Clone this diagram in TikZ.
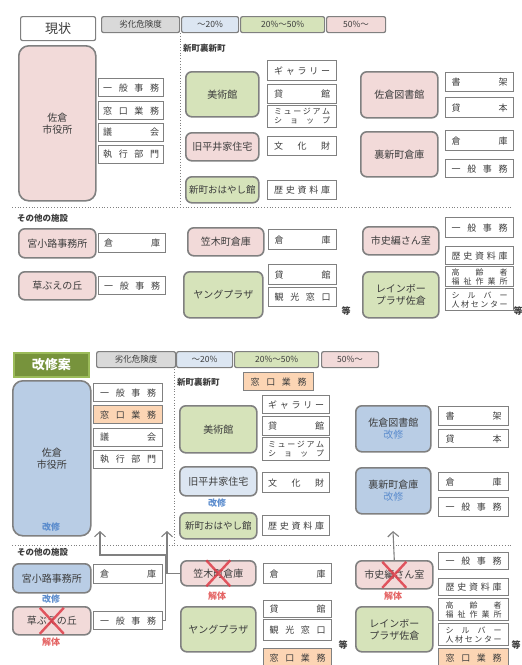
\documentclass[tikz,border=0pt]{standalone}
\usepackage{fontspec}
\setmainfont{Noto Sans CJK JP}
\usepackage{xcolor}
\usepackage{tikz}
\usetikzlibrary{arrows.meta}
\definecolor{pinkfill}{RGB}{242, 218, 217}
\definecolor{greenfill}{RGB}{214, 227, 186}
\definecolor{bluefill}{RGB}{185, 205, 229}
\definecolor{lightblue}{RGB}{220, 230, 242}
\definecolor{orangefill}{RGB}{252, 213, 180}
\definecolor{grayfill}{RGB}{217, 217, 217}
\definecolor{edgegray}{RGB}{128, 128, 128}
\definecolor{txtgray}{RGB}{60, 60, 60}
\definecolor{kgreen}{RGB}{119, 147, 60}
\definecolor{kgreenedge}{RGB}{155, 187, 89}
\definecolor{kblue}{RGB}{91, 140, 205}
\definecolor{kred}{RGB}{228, 100, 100}
\definecolor{xred}{RGB}{222, 60, 72}
\newcommand{\spreadtext}[2][56pt]{\makebox[#1][s]{#2}}
\tikzstyle{facility} = [
    rectangle,
    rounded corners=6pt,
    anchor=north west,
    line width=1.6pt,
    draw=edgegray,
    text=txtgray,
    align=center,
    inner sep=1pt,
    font=\fontsize{10}{12}\selectfont
]
\tikzstyle{item} = [
    rectangle,
    anchor=north west,
    line width=1.2pt,
    draw=edgegray,
    fill=white,
    text=txtgray,
    align=center,
    inner sep=0pt,
    minimum width=68pt,
    minimum height=19pt,
    font=\fontsize{9}{10}\selectfont
]
\tikzstyle{legend} = [
    rectangle,
    rounded corners=2pt,
    anchor=north west,
    line width=1.2pt,
    draw=edgegray,
    text=txtgray,
    inner sep=0pt,
    minimum height=16pt,
    font=\fontsize{8.5}{9}\selectfont
]
\tikzstyle{twoline} = [font=\fontsize{8}{9}\selectfont]
\tikzstyle{heading} = [anchor=west, inner sep=0pt, text=txtgray, font=\bfseries\fontsize{8.5}{9}\selectfont]
\tikzstyle{note} = [inner sep=0pt, font=\bfseries\fontsize{9}{9}\selectfont]
\tikzstyle{cross} = [line width=2.4pt, color=xred, opacity=0.85]
\tikzstyle{flow} = [line width=1.1pt, color=edgegray, -{Straight Barb[length=5pt, width=11pt]}]
\tikzstyle{sep} = [dotted, line width=0.8pt, color=edgegray]

\begin{document}
\begin{tikzpicture}[x=1pt, y=-1pt]
        \useasboundingbox (0,0) rectangle (522,665);

        % Current state
        \node[item, rounded corners=2pt, minimum width=75pt, minimum height=24pt, font=\fontsize{13}{14}\selectfont] (title) at (20,16) {現状};
        \node[legend, fill=grayfill, minimum width=78pt] (risk) at (101,16) {劣化危険度};
        \node[legend, fill=lightblue, minimum width=57pt] (low) at (181,16) {～20\%};
        \node[legend, fill=greenfill, minimum width=84pt] (mid) at (240,16) {20\%～50\%};
        \node[legend, fill=pinkfill, minimum width=59pt] (high) at (326,16) {50\%～};
        \draw[sep] (180,33) -- (180,205);
        \draw[sep] (12,207) -- (512,207);
        \node[heading] (area) at (183,48) {新町裏新町};

        \node[facility, fill=pinkfill, rounded corners=10pt, minimum width=77pt, minimum height=155pt] (hall) at (18,45) {佐倉\\市役所};
        \node[item, minimum width=65pt, minimum height=18pt] (hall-office) at (98,78) {\spreadtext{一\hfill 般\hfill 事\hfill 務}};
        \node[item, minimum width=65pt, minimum height=18pt] (hall-counter) at (98,101) {\spreadtext{窓\hfill 口\hfill 業\hfill 務}};
        \node[item, minimum width=65pt, minimum height=18pt] (hall-council) at (98,123) {\spreadtext{議\hfill 会}};
        \node[item, minimum width=65pt, minimum height=18pt] (hall-exec) at (98,145) {\spreadtext{執\hfill 行\hfill 部\hfill 門}};

        \node[facility, fill=greenfill, minimum width=73pt, minimum height=45pt] (museum) at (185,71) {美術館};
        \node[facility, fill=pinkfill, minimum width=73pt, minimum height=28pt] (hirai) at (185,132) {旧平井家住宅};
        \node[facility, fill=greenfill, minimum width=73pt, minimum height=26pt, font=\fontsize{9.5}{11}\selectfont] (ohayashi) at (185,176) {新町おはやし館};
        \node[item, minimum width=69pt, minimum height=20pt] (gallery) at (267,60) {\spreadtext{ギ\hfill ャ\hfill ラ\hfill リ\hfill ー}};
        \node[item, minimum width=69pt] (lend) at (267,84) {\spreadtext{貸\hfill 館}};
        \node[item, twoline, minimum width=69pt, minimum height=22pt] (shop) at (267,105) {\spreadtext{ミ\hfill ュ\hfill ー\hfill ジ\hfill ア\hfill ム}\\\spreadtext{シ\hfill ョ\hfill ッ\hfill プ}};
        \node[item, minimum width=69pt] (heritage) at (267,136) {\spreadtext{文\hfill 化\hfill 財}};
        \node[item, minimum width=69pt] (archive) at (267,180) {\spreadtext{歴\hfill 史\hfill 資\hfill 料\hfill 庫}};

        \node[facility, fill=pinkfill, minimum width=77pt, minimum height=46pt] (library) at (360,71) {佐倉図書館};
        \node[facility, fill=pinkfill, minimum width=77pt, minimum height=45pt] (storehouse) at (360,131) {裏新町倉庫};
        \node[item] (shelf) at (445,72) {\spreadtext{書\hfill 架}};
        \node[item, minimum height=20pt] (books) at (445,97) {\spreadtext{貸\hfill 本}};
        \node[item, minimum height=20pt] (store) at (445,130) {\spreadtext{倉\hfill 庫}};
        \node[item, minimum height=18pt] (office) at (445,159) {\spreadtext{一\hfill 般\hfill 事\hfill 務}};

        % Other facilities
        \node[heading] (others) at (17,218) {その他の施設};
        \node[facility, fill=pinkfill, minimum width=77pt, minimum height=29pt] (miyakoji) at (18,228) {宮小路事務所};
        \node[item, minimum width=67pt] (miyakoji-store) at (98,233) {\spreadtext{倉\hfill 庫}};
        \node[facility, fill=pinkfill, minimum width=77pt, minimum height=28pt] (kusabue) at (18,271) {草ぶえの丘};
        \node[item, minimum width=67pt, minimum height=18pt] (kusabue-office) at (98,276) {\spreadtext{一\hfill 般\hfill 事\hfill 務}};
        \node[facility, fill=pinkfill, minimum width=76pt, minimum height=28pt] (kasagi) at (187,227) {笠木町倉庫};
        \node[item, minimum height=20pt] (kasagi-store) at (268,229) {\spreadtext{倉\hfill 庫}};
        \node[facility, fill=greenfill, minimum width=79pt, minimum height=46pt] (young) at (183,271) {ヤングプラザ};
        \node[item, minimum height=20pt] (young-lend) at (268,264) {\spreadtext{貸\hfill 館}};
        \node[item] (young-tour) at (268,287) {\spreadtext{観\hfill 光\hfill 窓\hfill 口}};
        \node[note, text=txtgray] (etc1) at (346,311) {等};
        \node[facility, fill=pinkfill, minimum width=76pt, minimum height=28pt] (shishi) at (362,226) {市史編さん室};
        \node[item, minimum height=20pt] (shishi-office) at (445,217) {\spreadtext{一\hfill 般\hfill 事\hfill 務}};
        \node[item, minimum height=18pt] (shishi-archive) at (445,246) {\spreadtext{歴\hfill 史\hfill 資\hfill 料\hfill 庫}};
        \node[item, twoline, minimum height=20pt] (welfare) at (445,266) {\spreadtext{高\hfill 齢\hfill 者}\\\spreadtext{福\hfill 祉\hfill 作\hfill 業\hfill 所}};
        \node[item, twoline, minimum height=22pt] (silver) at (445,288) {\spreadtext{シ\hfill ル\hfill バ\hfill ー}\\\spreadtext{人\hfill 材\hfill セ\hfill ン\hfill タ\hfill ー}};
        \node[facility, fill=greenfill, minimum width=76pt, minimum height=46pt] (rainbow) at (362,271) {レインボー\\プラザ佐倉};
        \node[note, text=txtgray] (etc2) at (518,311) {等};

        % Renovation plan
        \node[rectangle, anchor=north west, fill=kgreen, draw=kgreenedge, line width=1.5pt, minimum width=75pt, minimum height=24pt, text=white, font=\bfseries\fontsize{13}{14}\selectfont] (title2) at (13,352) {改修案};
        \node[legend, fill=grayfill, minimum width=79pt] (risk2) at (96,351) {劣化危険度};
        \node[legend, fill=lightblue, minimum width=56pt] (low2) at (176,351) {～20\%};
        \node[legend, fill=greenfill, minimum width=84pt] (mid2) at (234,351) {20\%～50\%};
        \node[legend, fill=pinkfill, minimum width=57pt] (high2) at (321,351) {50\%～};
        \draw[sep] (174,369) -- (174,543);
        \draw[sep] (12,545) -- (512,545);
        \node[heading] (area2) at (177,382) {新町裏新町};
        \node[item, fill=orangefill, minimum width=70pt, minimum height=18pt] (area2-counter) at (243,372) {\spreadtext{窓\hfill 口\hfill 業\hfill 務}};

        \node[facility, fill=bluefill, rounded corners=10pt, minimum width=78pt, minimum height=155pt] (hall2) at (12,380) {佐倉\\市役所};
        \node[note, text=kblue] (hall2-note) at (51,527) {改修};
        \node[item, minimum width=69pt, minimum height=18pt] (hall2-office) at (93,383) {\spreadtext{一\hfill 般\hfill 事\hfill 務}};
        \node[item, fill=orangefill, minimum width=69pt, minimum height=18pt] (hall2-counter) at (93,405) {\spreadtext{窓\hfill 口\hfill 業\hfill 務}};
        \node[item, minimum width=69pt, minimum height=18pt] (hall2-council) at (93,428) {\spreadtext{議\hfill 会}};
        \node[item, minimum width=69pt, minimum height=18pt] (hall2-exec) at (93,450) {\spreadtext{執\hfill 行\hfill 部\hfill 門}};

        \node[facility, fill=greenfill, minimum width=77pt, minimum height=47pt] (museum2) at (179,405) {美術館};
        \node[facility, fill=lightblue, minimum width=77pt, minimum height=29pt] (hirai2) at (179,466) {旧平井家住宅};
        \node[note, text=kblue] (hirai2-note) at (217,503) {改修};
        \node[facility, fill=greenfill, minimum width=77pt, minimum height=26pt, font=\fontsize{9.5}{11}\selectfont] (ohayashi2) at (179,512) {新町おはやし館};
        \node[item, minimum width=67pt, minimum height=18pt] (gallery2) at (262,395) {\spreadtext{ギ\hfill ャ\hfill ラ\hfill リ\hfill ー}};
        \node[item, minimum width=67pt] (lend2) at (262,416) {\spreadtext{貸\hfill 館}};
        \node[item, twoline, minimum width=67pt, minimum height=23pt] (shop2) at (262,437) {\spreadtext{ミ\hfill ュ\hfill ー\hfill ジ\hfill ア\hfill ム}\\\spreadtext{シ\hfill ョ\hfill ッ\hfill プ}};
        \node[item, minimum width=67pt, minimum height=20pt] (heritage2) at (262,472) {\spreadtext{文\hfill 化\hfill 財}};
        \node[item, minimum width=67pt, minimum height=20pt] (archive2) at (262,515) {\spreadtext{歴\hfill 史\hfill 資\hfill 料\hfill 庫}};

        \node[facility, fill=bluefill, minimum width=75pt, minimum height=46pt] (library2) at (355,405) {佐倉図書館\\\textcolor{kblue}{改修}};
        \node[facility, fill=bluefill, minimum width=75pt, minimum height=46pt] (storehouse2) at (355,467) {裏新町倉庫\\\textcolor{kblue}{改修}};
        \node[item, minimum width=70pt] (shelf2) at (438,406) {\spreadtext{書\hfill 架}};
        \node[item, minimum width=70pt, minimum height=18pt] (books2) at (438,429) {\spreadtext{貸\hfill 本}};
        \node[item, minimum width=70pt, minimum height=18pt] (store2) at (438,472) {\spreadtext{倉\hfill 庫}};
        \node[item, minimum width=70pt] (office2) at (438,497) {\spreadtext{一\hfill 般\hfill 事\hfill 務}};

        \node[heading] (others2) at (17,552) {その他の施設};
        \node[facility, fill=bluefill, minimum width=78pt, minimum height=29pt] (miyakoji2) at (12,563) {宮小路事務所};
        \node[note, text=kblue] (miyakoji2-note) at (51,599) {改修};
        \node[item, minimum width=69pt] (miyakoji2-store) at (93,564) {\spreadtext{倉\hfill 庫}};
        \node[facility, fill=pinkfill, minimum width=78pt, minimum height=28pt] (kusabue2) at (12,606) {草ぶえの丘};
        \node[note, text=kred] (kusabue2-note) at (51,642) {解体};
        \node[item, minimum width=69pt, minimum height=18pt] (kusabue2-office) at (93,611) {\spreadtext{一\hfill 般\hfill 事\hfill 務}};
        \node[facility, fill=pinkfill, minimum width=75pt, minimum height=25pt] (kasagi2) at (180,560) {笠木町倉庫};
        \node[note, text=kred] (kasagi2-note) at (217,596) {解体};
        \node[item, minimum height=20pt] (kasagi2-store) at (263,563) {\spreadtext{倉\hfill 庫}};
        \node[facility, fill=greenfill, minimum width=75pt, minimum height=45pt] (young2) at (180,606) {ヤングプラザ};
        \node[item, minimum height=17pt] (young2-lend) at (263,600) {\spreadtext{貸\hfill 館}};
        \node[item, minimum height=21pt] (young2-tour) at (263,619) {\spreadtext{観\hfill 光\hfill 窓\hfill 口}};
        \node[item, fill=orangefill, minimum height=18pt] (young2-counter) at (263,648) {\spreadtext{窓\hfill 口\hfill 業\hfill 務}};
        \node[note, text=txtgray] (etc3) at (343,645) {等};
        \node[facility, fill=pinkfill, minimum width=77pt, minimum height=28pt] (shishi2) at (355,560) {市史編さん室};
        \node[note, text=kred] (shishi2-note) at (393,596) {解体};
        \node[item, minimum width=70pt, minimum height=17pt] (shishi2-office) at (438,552) {\spreadtext{一\hfill 般\hfill 事\hfill 務}};
        \node[item, minimum width=70pt, minimum height=17pt] (shishi2-archive) at (438,578) {\spreadtext{歴\hfill 史\hfill 資\hfill 料\hfill 庫}};
        \node[item, twoline, minimum width=70pt, minimum height=22pt] (welfare2) at (438,598) {\spreadtext{高\hfill 齢\hfill 者}\\\spreadtext{福\hfill 祉\hfill 作\hfill 業\hfill 所}};
        \node[item, twoline, minimum width=70pt, minimum height=22pt] (silver2) at (438,623) {\spreadtext{シ\hfill ル\hfill バ\hfill ー}\\\spreadtext{人\hfill 材\hfill セ\hfill ン\hfill タ\hfill ー}};
        \node[item, fill=orangefill, minimum width=70pt, minimum height=18pt] (rainbow2-counter) at (438,648) {\spreadtext{窓\hfill 口\hfill 業\hfill 務}};
        \node[facility, fill=greenfill, minimum width=77pt, minimum height=45pt] (rainbow2) at (355,606) {レインボー\\プラザ佐倉};
        \node[note, text=txtgray] (etc4) at (516,645) {等};

        % Demolished
        \draw[cross] (kusabue2.center) +(-12,-13) -- +(12,13) +(-12,13) -- +(12,-13);
        \draw[cross] (kasagi2.center) +(-12,-13) -- +(12,13) +(-12,13) -- +(12,-13);
        \draw[cross] (shishi2.center) +(-12,-13) -- +(12,13) +(-12,13) -- +(12,-13);

        % Arrows
        \coordinate (tohall) at (100,531);
        \coordinate (toarea) at (167,531);
        \coordinate (tostore) at (393,531);
        \draw[flow] (kusabue2-office.east) -- ++(2,0) |- ([yshift=-24pt]tohall) -- (tohall);
        \draw[flow] (kasagi2.west) -| (toarea);
        \draw[flow] (shishi2.north) -- (tostore);
    \end{tikzpicture}
\end{document}
